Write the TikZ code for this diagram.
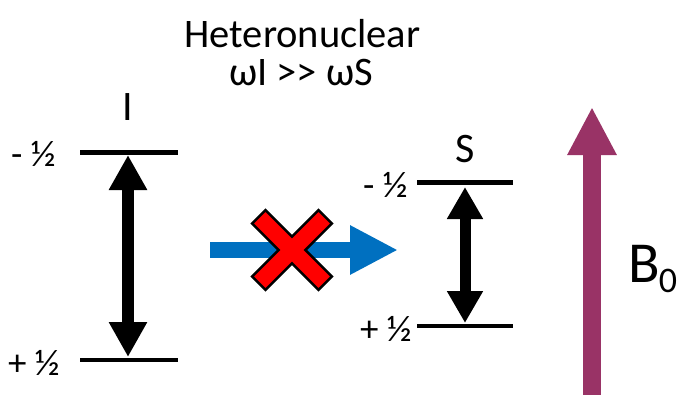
\documentclass[tikz,border=0pt]{standalone}
\usepackage{fontspec}
\setmainfont{Carlito}
\usetikzlibrary{arrows.meta}
\definecolor{bluearr}{RGB}{0,112,192}
\definecolor{purplearr}{RGB}{153,51,102}
\definecolor{xred}{RGB}{255,0,0}
\begin{document}
\begin{tikzpicture}[x=1pt,y=-1pt,
  level/.style={line width=4.5pt},
  halflbl/.style={inner sep=0pt, anchor=base west, font=\fontsize{37}{37}\selectfont},
  spinname/.style={inner sep=0pt, anchor=base, font=\fontsize{42}{42}\selectfont},
  titletext/.style={inner sep=0pt, anchor=base, font=\fontsize{40.5}{40.5}\selectfont},
  dblarrL/.style={line width=12pt, {Triangle[width=36pt,length=35pt]}-{Triangle[width=36pt,length=35pt]}},
  dblarrS/.style={line width=11pt, {Triangle[width=34pt,length=32pt]}-{Triangle[width=34pt,length=32pt]}},
  transfer/.style={draw=bluearr, line width=16pt, -{Triangle[width=46pt,length=48pt]}},
  field/.style={draw=purplearr, line width=18pt, -{Triangle[width=46pt,length=48pt]}},
  cross/.style={fill=xred, draw=black, line width=2.5pt, line join=miter}
]
\useasboundingbox (0,0) rectangle (680,394);

% title
\node[titletext] (title1) at (302.5,47) {Heteronuclear};
\node[titletext] (title2) at (301,85) {ωI >{}> ωS};

% I spin
\node[spinname] (Iname) at (128,120) {I};
\coordinate (Ltl) at (80,152.5);
\coordinate (Ltr) at (178,152.5);
\coordinate (Lbl) at (80,360);
\coordinate (Lbr) at (178,360);
\draw[level] (Ltl) -- (Ltr);
\draw[level] (Lbl) -- (Lbr);
\node[halflbl] (Lminus) at (11,166) {- ½};
\node[halflbl] (Lplus) at (8,375) {+ ½};
\coordinate (Lup) at (128,155);
\coordinate (Ldn) at (128,357);
\draw[dblarrL] (Lup) -- (Ldn);

% S spin
\node[spinname] (Sname) at (465,162) {S};
\coordinate (Rtl) at (417,182.5);
\coordinate (Rtr) at (513,182.5);
\coordinate (Rbl) at (417,326);
\coordinate (Rbr) at (513,326);
\draw[level] (Rtl) -- (Rtr);
\draw[level] (Rbl) -- (Rbr);
\node[halflbl] (Rminus) at (363,197) {- ½};
\node[halflbl] (Rplus) at (360,341) {+ ½};
\coordinate (Rup) at (465,187);
\coordinate (Rdn) at (465,323);
\draw[dblarrS] (Rup) -- (Rdn);

% blocked transfer
\coordinate (Tstart) at (210,250);
\coordinate (Tend) at (398,250);
\draw[transfer] (Tstart) -- (Tend);
\begin{scope}[shift={(292,250)}, rotate=45]
  \filldraw[cross] (9.5,47) -- (9.5,9.5) -- (47,9.5) -- (47,-9.5) -- (9.5,-9.5) -- (9.5,-47)
    -- (-9.5,-47) -- (-9.5,-9.5) -- (-47,-9.5) -- (-47,9.5) -- (-9.5,9.5) -- (-9.5,47) -- cycle;
\end{scope}

% B0 field
\coordinate (Bbot) at (592,396);
\coordinate (Btop) at (592,107);
\draw[field] (Bbot) -- (Btop);
\node[inner sep=0pt, anchor=base west, font=\fontsize{58}{58}\selectfont] (B0) at (628,282)
  {B\kern-1pt\raisebox{-10pt}{\fontsize{36}{36}\selectfont 0}};
\end{tikzpicture}
\end{document}
